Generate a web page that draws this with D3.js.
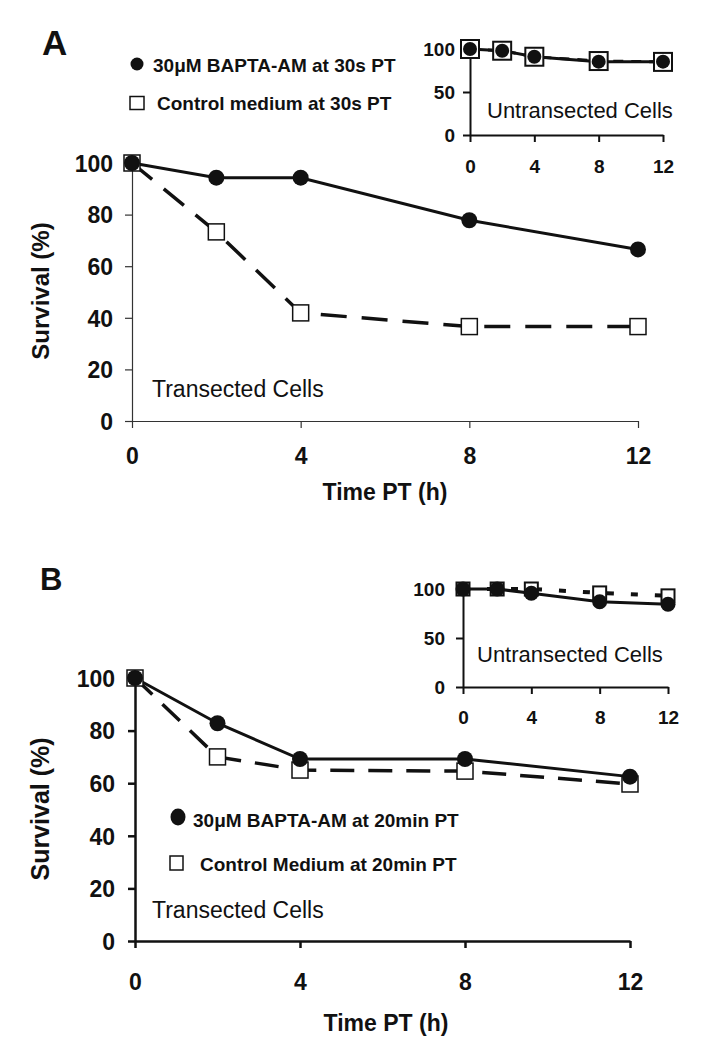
<!DOCTYPE html>
<html><head><meta charset="utf-8">
<script src="https://cdn.jsdelivr.net/npm/d3@7"></script>
<style>
body{margin:0;background:#fff;}
svg{display:block;font-family:"Liberation Sans",Arial,Helvetica,sans-serif;}
</style></head>
<body><svg id="c" width="721" height="1060"></svg>
<script>
// ---- data ----
const times = [0, 2, 4, 8, 12];
const mainTicksX = [0, 4, 8, 12];
const mainTicksY = [0, 20, 40, 60, 80, 100];
const insetTicksY = [0, 50, 100];

const mainA_bapta = [100, 94.3, 94.3, 77.8, 66.5];
const mainA_control = [100, 73.3, 41.9, 36.6, 36.6];
const insetA_bapta = [100, 98, 91, 85.3, 85.3];
const insetA_control = [100, 98, 91, 86, 85];

const mainB_bapta = [100, 82.8, 69.2, 69.2, 62.5];
const mainB_control = [100, 70, 65, 64.6, 59.7];
const insetB_bapta = [100, 100, 95.6, 87, 84.4];
const insetB_control = [100, 100, 100, 96, 93];

const legendA = ["30\u03bcM BAPTA-AM at 30s PT", "Control medium at 30s PT"];
const legendB = ["30\u03bcM BAPTA-AM at 20min PT", "Control Medium at 20min PT"];

const svg = d3.select("#c");
const INK = "#111";

function panel(cfg) {
  const x = d3.scaleLinear().domain([0, 12]).range(cfg.xr);
  const y = d3.scaleLinear().domain([0, 100]).range(cfg.yr);
  const g = svg.append("g");
  // axes
  const ax = g.append("g").attr("transform", `translate(0,${cfg.yr[0]})`)
    .call(d3.axisBottom(x).tickValues(mainTicksX).tickSize(7).tickSizeOuter(0).tickPadding(0));
  const ay = g.append("g").attr("transform", `translate(${cfg.xr[0]},0)`)
    .call(d3.axisLeft(y).tickValues(cfg.yticks).tickSize(7).tickSizeOuter(0).tickPadding(cfg.ypad));
  [ax, ay].forEach(a => {
    a.select(".domain").attr("stroke", cfg.axisColor).attr("stroke-width", cfg.axisW);
    a.selectAll(".tick line").attr("stroke", cfg.axisColor).attr("stroke-width", cfg.axisW);
    a.selectAll("text").attr("fill", INK).attr("font-weight", "bold")
      .attr("font-size", cfg.tickFont).attr("font-family", "Liberation Sans, Arial, sans-serif");
  });
  ax.selectAll("text").attr("y", cfg.xLabOff).attr("dy", "0.36em");
  ay.selectAll("text").attr("dy", "0.36em");

  const line = d3.line().x((d, i) => x(times[i])).y(d => y(d));
  // control series
  g.append("path").datum(cfg.control).attr("d", line).attr("fill", "none")
    .attr("stroke", INK).attr("stroke-width", cfg.dashW).attr("stroke-dasharray", cfg.dash);
  g.append("path").datum(cfg.bapta).attr("d", line).attr("fill", "none")
    .attr("stroke", INK).attr("stroke-width", cfg.solidW);
  g.selectAll("rect.m").data(cfg.control).join("rect").attr("class", "m")
    .attr("x", (d, i) => x(times[i]) - cfg.sq / 2).attr("y", d => y(d) - cfg.sq / 2)
    .attr("width", cfg.sq).attr("height", cfg.sq)
    .attr("fill", "#fff").attr("stroke", INK).attr("stroke-width", cfg.sqW);
  g.selectAll("circle.m").data(cfg.bapta).join("circle").attr("class", "m")
    .attr("cx", (d, i) => x(times[i])).attr("cy", d => y(d)).attr("r", cfg.r).attr("fill", INK);
  // annotation
  g.append("text").attr("x", cfg.note[0]).attr("y", cfg.note[1]).attr("font-size", cfg.noteFont)
    .attr("fill", INK).text(cfg.noteText);
  return {x, y, g};
}

// ---- Panel A ----
svg.append("text").attr("x", 42).attr("y", 55).attr("font-size", 35).attr("font-weight", "bold").attr("fill", INK).text("A");
panel({xr: [132, 638], yr: [421, 163], yticks: mainTicksY, ypad: 12, axisColor: "#333", axisW: 1.2,
  tickFont: 23, xLabOff: 35, control: mainA_control, bapta: mainA_bapta, dash: "26,15", dashW: 3.5, solidW: 3,
  sq: 16, sqW: 1.5, r: 8, note: [152, 397], noteFont: 23, noteText: "Transected Cells"});
panel({xr: [470, 663], yr: [135, 49], yticks: insetTicksY, ypad: 8, axisColor: INK, axisW: 2,
  tickFont: 19, xLabOff: 31, control: insetA_control, bapta: insetA_bapta, dash: "10,8", dashW: 3, solidW: 3,
  sq: 18, sqW: 2, r: 7, note: [487, 118], noteFont: 22, noteText: "Untransected Cells"});
// legend A
svg.append("circle").attr("cx", 137).attr("cy", 64).attr("r", 6.5).attr("fill", INK);
svg.append("rect").attr("x", 130).attr("y", 96.5).attr("width", 14).attr("height", 13).attr("fill", "#fff").attr("stroke", INK).attr("stroke-width", 1.5);
svg.append("text").attr("x", 153).attr("y", 72).attr("font-size", 19).attr("font-weight", "bold").attr("fill", INK).text(legendA[0]);
svg.append("text").attr("x", 157).attr("y", 110).attr("font-size", 19).attr("font-weight", "bold").attr("fill", INK).text(legendA[1]);
svg.append("text").attr("transform", "translate(49,291) rotate(-90)").attr("text-anchor", "middle")
  .attr("font-size", 24).attr("font-weight", "bold").attr("fill", INK).text("Survival (%)");
svg.append("text").attr("x", 385).attr("y", 500).attr("text-anchor", "middle")
  .attr("font-size", 23).attr("font-weight", "bold").attr("fill", INK).text("Time PT (h)");

// ---- Panel B ----
svg.append("text").attr("x", 40).attr("y", 590).attr("font-size", 31).attr("font-weight", "bold").attr("fill", INK).text("B");
panel({xr: [135, 630], yr: [941, 678], yticks: mainTicksY, ypad: 13, axisColor: INK, axisW: 2.5,
  tickFont: 23, xLabOff: 41, control: mainB_control, bapta: mainB_bapta, dash: "24,14", dashW: 3.5, solidW: 3,
  sq: 16, sqW: 1.5, r: 8, note: [152, 918], noteFont: 23, noteText: "Transected Cells"});
panel({xr: [463, 668], yr: [687, 589], yticks: insetTicksY, ypad: 11, axisColor: INK, axisW: 2,
  tickFont: 19, xLabOff: 30, control: insetB_control, bapta: insetB_bapta, dash: "7,17", dashW: 4, solidW: 3,
  sq: 13, sqW: 2, r: 7.5, note: [477, 662], noteFont: 22, noteText: "Untransected Cells"});
// legend B
svg.append("ellipse").attr("cx", 178).attr("cy", 817).attr("rx", 7.5).attr("ry", 8.5).attr("fill", INK);
svg.append("rect").attr("x", 170).attr("y", 856).attr("width", 13).attr("height", 14).attr("fill", "#fff").attr("stroke", INK).attr("stroke-width", 1.5);
svg.append("text").attr("x", 193).attr("y", 827).attr("font-size", 19).attr("font-weight", "bold").attr("fill", INK).text(legendB[0]);
svg.append("text").attr("x", 200).attr("y", 871).attr("font-size", 19).attr("font-weight", "bold").attr("fill", INK).text(legendB[1]);
svg.append("text").attr("transform", "translate(49,809) rotate(-90)").attr("text-anchor", "middle")
  .attr("font-size", 25).attr("font-weight", "bold").attr("fill", INK).text("Survival (%)");
svg.append("text").attr("x", 386).attr("y", 1031).attr("text-anchor", "middle")
  .attr("font-size", 23).attr("font-weight", "bold").attr("fill", INK).text("Time PT (h)");
</script></body></html>
